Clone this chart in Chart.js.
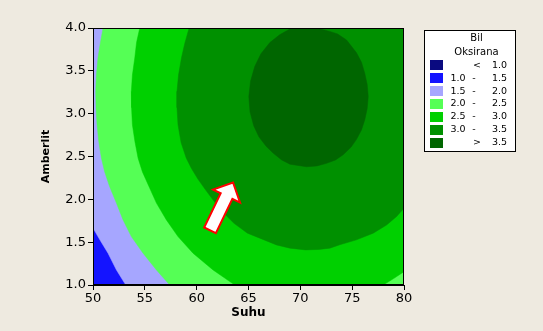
<!DOCTYPE html>
<html>
<head>
<meta charset="utf-8">
<script src="https://cdn.jsdelivr.net/npm/chart.js@4.4.1/dist/chart.umd.min.js"></script>
<style>
  html, body { margin: 0; padding: 0; background: #EEEAE0; }
  #wrap { width: 543px; height: 331px; position: relative; }
  canvas { display: block; }
</style>
</head>
<body>
<div id="wrap"><canvas id="contour" width="543" height="331"></canvas></div>
<script>
// Axis ranges and tick labels
const suhuRange = [50, 80];
const amberlitRange = [1.0, 4.0];
const suhuTicks = [50, 55, 60, 65, 70, 75, 80];
const amberlitTicks = [1.0, 1.5, 2.0, 2.5, 3.0, 3.5, 4.0];

// Contour levels of "Bil Oksirana" and their legend entries
const levelBreaks = [1.0, 1.5, 2.0, 2.5, 3.0, 3.5];
const legendTitle = ['Bil', 'Oksirana'];
const legendRows = [
  ['', '<', '1.0'],
  ['1.0', '-', '1.5'],
  ['1.5', '-', '2.0'],
  ['2.0', '-', '2.5'],
  ['2.5', '-', '3.0'],
  ['3.0', '-', '3.5'],
  ['', '>', '3.5']
];
const levelColors = ['#0A0A80', '#1414FF', '#A6A6FF', '#55FF55', '#00D000', '#009000', '#006600'];

// Contour lines as [Suhu, Amberlit] pairs
const contour15 = [[50.0, 1.664], [50.7, 1.52], [51.45, 1.371], [52.26, 1.176], [53.16, 1.0]];
const contour20 = [
  [50.97, 4.0], [50.7, 3.82], [50.48, 3.65], [50.33, 3.45], [50.26, 3.26], [50.3, 3.05],
  [50.39, 2.87], [50.55, 2.68], [50.81, 2.48], [51.13, 2.32], [51.6, 2.15], [52.26, 1.956],
  [52.9, 1.76], [53.7, 1.565], [54.83, 1.371], [56.12, 1.176], [57.4, 1.0]
];
const contour25 = [
  [54.51, 4.0], [54.2, 3.83], [54.03, 3.65], [53.8, 3.45], [53.7, 3.26], [53.72, 3.07],
  [53.8, 2.87], [54.05, 2.67], [54.35, 2.48], [54.77, 2.32], [55.4, 2.15], [56.12, 1.956],
  [57.08, 1.76], [58.2, 1.565], [59.65, 1.371], [61.58, 1.176], [62.6, 1.09], [63.68, 1.0]
];
const contour25Corner = [[78.0, 1.0], [79.0, 1.075], [80.0, 1.156]];
const contour30 = [
  [59.27, 4.0], [58.85, 3.82], [58.53, 3.65], [58.25, 3.45], [58.1, 3.26], [58.1, 3.07],
  [58.2, 2.87], [58.5, 2.66], [59.0, 2.48], [59.5, 2.36], [60.1, 2.24], [60.8, 2.12],
  [61.6, 1.99], [62.6, 1.84], [63.6, 1.72], [64.9, 1.605], [66.09, 1.547], [67.7, 1.468],
  [69.0, 1.43], [70.5, 1.41], [71.8, 1.415], [72.85, 1.43], [73.81, 1.47], [75.42, 1.527],
  [77.03, 1.605], [78.32, 1.70], [79.29, 1.80], [80.0, 1.897]
];
const contour35 = [
  [70.0, 4.02], [69.3, 4.01], [68.0, 3.92], [67.06, 3.83], [66.2, 3.70], [65.6, 3.55],
  [65.2, 3.38], [65.03, 3.20], [65.15, 3.02], [65.5, 2.86], [66.0, 2.73], [66.7, 2.62],
  [67.37, 2.54], [68.2, 2.46], [69.0, 2.41], [70.6, 2.38], [71.6, 2.39], [72.53, 2.42],
  [73.4, 2.46], [74.13, 2.52], [74.9, 2.61], [75.42, 2.70], [75.9, 2.81], [76.22, 2.93],
  [76.45, 3.06], [76.55, 3.20], [76.45, 3.34], [76.22, 3.47], [75.9, 3.60], [75.42, 3.71],
  [74.46, 3.86], [73.6, 3.93], [72.85, 3.96], [71.88, 3.99], [71.0, 4.02]
];

// Arrow annotation (tail -> tip) in axis units
const arrowNote = { tail: [61.29, 1.638], tip: [63.51, 2.196] };

// ---- build filled regions (each level region lies above its contour) ----
const [x0, x1] = suhuRange;
const [y0, y1] = amberlitRange;
const regions = [
  [[x0, y0], [x1, y0], [x1, y1], [x0, y1]],
  [...contour15, [x1, y0], [x1, y1], [x0, y1]],
  [...contour20, [x1, y0], [x1, y1]],
  [...contour25, ...contour25Corner, [x1, y1]],
  [...contour30, [x1, y1]],
  contour35
];
const toPoints = arr => arr.map(([x, y]) => ({ x, y }));

const datasets = regions.map((poly, i) => ({
  label: legendRows[i + 1].join(' '),
  data: toPoints(poly),
  showLine: true,
  fill: 'shape',
  backgroundColor: levelColors[i + 1],
  borderColor: levelColors[i + 1],
  borderWidth: 0.5,
  tension: 0,
  pointRadius: 0,
  pointHoverRadius: 0,
  order: regions.length - i
}));

const fontFamily = '"DejaVu Sans", Verdana, sans-serif';

// frame around the plotting region
const frame = {
  id: 'frame',
  afterDatasetsDraw(chart) {
    const { ctx, chartArea: a } = chart;
    ctx.save();
    ctx.strokeStyle = '#000';
    ctx.lineWidth = 1;
    ctx.strokeRect(Math.round(a.left) + 0.5, Math.round(a.top) + 0.5,
                   Math.round(a.right - a.left) - 1, Math.round(a.bottom - a.top) - 1);
    ctx.restore();
  }
};

// block arrow annotation placed with the chart's scales
const arrow = {
  id: 'arrow',
  afterDatasetsDraw(chart) {
    const { ctx, scales: { x, y } } = chart;
    const tx = x.getPixelForValue(arrowNote.tail[0]), ty = y.getPixelForValue(arrowNote.tail[1]);
    const px = x.getPixelForValue(arrowNote.tip[0]), py = y.getPixelForValue(arrowNote.tip[1]);
    const len = Math.hypot(px - tx, py - ty);
    const ux = (px - tx) / len, uy = (py - ty) / len;
    const nx = -uy, ny = ux;
    const shaft = 6.5, head = 15, headLen = 15;
    const bx = px - ux * headLen, by = py - uy * headLen;
    const pts = [
      [tx - nx * shaft, ty - ny * shaft],
      [bx - nx * shaft, by - ny * shaft],
      [bx - nx * head, by - ny * head],
      [px, py],
      [bx + nx * head, by + ny * head],
      [bx + nx * shaft, by + ny * shaft],
      [tx + nx * shaft, ty + ny * shaft]
    ];
    ctx.save();
    ctx.beginPath();
    pts.forEach(([a, b], i) => i ? ctx.lineTo(a, b) : ctx.moveTo(a, b));
    ctx.closePath();
    ctx.fillStyle = '#FFFFFF';
    ctx.fill();
    ctx.lineJoin = 'miter';
    ctx.strokeStyle = '#FF0000';
    ctx.lineWidth = 2;
    ctx.stroke();
    ctx.restore();
  }
};

// boxed legend listing the contour levels
const levelLegend = {
  id: 'levelLegend',
  afterDraw(chart) {
    const { ctx } = chart;
    const boxL = 424.5, boxT = 30.5, boxW = 91, boxH = 121;
    ctx.save();
    ctx.fillStyle = '#FFFFFF';
    ctx.fillRect(boxL, boxT, boxW, boxH);
    ctx.strokeStyle = '#000';
    ctx.lineWidth = 1;
    ctx.strokeRect(boxL, boxT, boxW, boxH);
    ctx.fillStyle = '#000';
    ctx.textBaseline = 'middle';
    ctx.textAlign = 'center';
    ctx.font = '10px ' + fontFamily;
    ctx.fillText(legendTitle[0], 476.5, 38.5);
    ctx.fillText(legendTitle[1], 476.5, 52.5);
    ctx.font = '9.5px ' + fontFamily;
    legendRows.forEach((row, i) => {
      const cy = 65.3 + i * 12.9;
      ctx.fillStyle = levelColors[i];
      ctx.fillRect(430, Math.round(cy - 5), 13, 10);
      ctx.fillStyle = '#000';
      ctx.textAlign = 'right';
      if (row[0]) ctx.fillText(row[0], 465.5, cy);
      ctx.textAlign = 'center';
      ctx.fillText(row[1], row[0] ? 474 : 477, cy);
      ctx.textAlign = 'right';
      ctx.fillText(row[2], 507, cy);
    });
    ctx.restore();
  }
};

const axisCommon = {
  type: 'linear',
  grid: { display: true, drawOnChartArea: false, drawTicks: true, tickLength: 5, color: '#000', lineWidth: 1 },
  border: { display: true, color: '#000', width: 1 }
};

new Chart(document.getElementById('contour'), {
  type: 'scatter',
  data: { datasets },
  options: {
    responsive: false,
    animation: false,
    events: [],
    layout: { padding: { top: 28, right: 139, left: 0, bottom: 0 } },
    plugins: { legend: { display: false }, tooltip: { enabled: false } },
    scales: {
      x: {
        ...axisCommon,
        min: suhuRange[0], max: suhuRange[1],
        afterBuildTicks: s => { s.ticks = suhuTicks.map(v => ({ value: v })); },
        afterFit: s => { s.height = 46; },
        ticks: { color: '#000', font: { family: fontFamily, size: 13 }, padding: 1, maxRotation: 0,
                 callback: v => String(v) },
        title: { display: true, text: 'Suhu', color: '#000',
                 font: { family: fontFamily, size: 12, weight: 'bold' }, padding: { top: 0, bottom: 11 } }
      },
      y: {
        ...axisCommon,
        min: amberlitRange[0], max: amberlitRange[1],
        afterBuildTicks: s => { s.ticks = amberlitTicks.map(v => ({ value: v })); },
        afterFit: s => { s.width = 93; },
        ticks: { color: '#000', font: { family: fontFamily, size: 13 }, padding: 2,
                 callback: v => Number(v).toFixed(1) },
        title: { display: true, text: 'Amberlit', color: '#000',
                 font: { family: fontFamily, size: 11, weight: 'bold' }, padding: { top: 40, bottom: 0 } }
      }
    }
  },
  plugins: [frame, arrow, levelLegend]
});
</script>
</body>
</html>
